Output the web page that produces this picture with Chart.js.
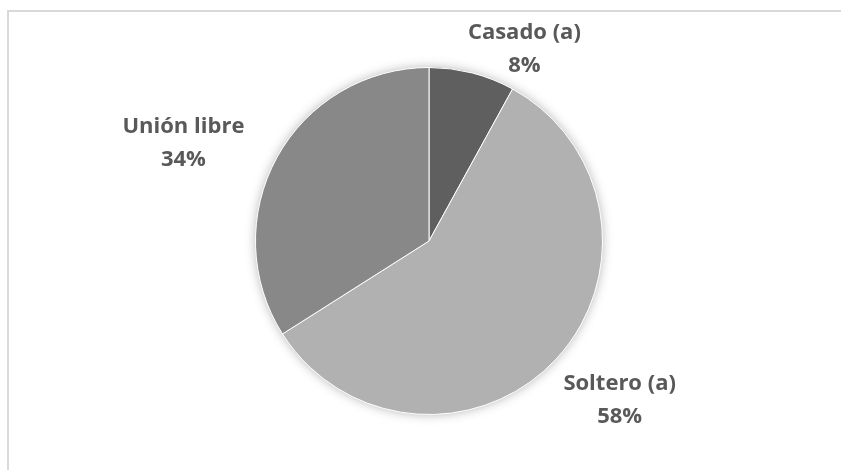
<!DOCTYPE html>
<html>
<head>
<meta charset="utf-8">
<script src="https://cdn.jsdelivr.net/npm/chart.js@4/dist/chart.umd.min.js"></script>
<style>
  html, body { margin: 0; padding: 0; background: #fff; overflow: hidden; }
  canvas { display: block; }
</style>
</head>
<body>
<canvas id="pieChart" width="841" height="470"></canvas>
<script>
const categories = ['Casado (a)', 'Soltero (a)', 'Unión libre'];
const percents = [8, 58, 34];
const sliceColors = ['#5f5f5f', '#b1b1b1', '#888888'];

// where each label sits relative to its slice: extra radius (px) and angle shift (deg)
const labelRadius = [41, 75, 91];
const labelShift = [12, -3.3, -7];

const framePlugin = {
  id: 'frame',
  beforeDraw(chart) {
    const ctx = chart.ctx;
    ctx.save();
    ctx.strokeStyle = '#d9d9d9';
    ctx.lineWidth = 2;
    ctx.beginPath();
    ctx.moveTo(8, chart.height);
    ctx.lineTo(8, 11);
    ctx.lineTo(chart.width, 11);
    ctx.stroke();
    ctx.restore();
  }
};

const shadowPlugin = {
  id: 'pieShadow',
  beforeDatasetsDraw(chart) {
    const arc = chart.getDatasetMeta(0).data[0];
    if (!arc) return;
    const ctx = chart.ctx;
    ctx.save();
    ctx.shadowColor = 'rgba(0,0,0,0.35)';
    ctx.shadowBlur = 12;
    ctx.fillStyle = '#ffffff';
    ctx.beginPath();
    ctx.arc(arc.x, arc.y, arc.outerRadius - 1, 0, Math.PI * 2);
    ctx.fill();
    ctx.restore();
  }
};

const labelPlugin = {
  id: 'sliceLabels',
  afterDatasetsDraw(chart) {
    const ctx = chart.ctx;
    const meta = chart.getDatasetMeta(0);
    ctx.save();
    ctx.fillStyle = '#595959';
    ctx.font = 'bold 22px "Open Sans", sans-serif';
    ctx.textAlign = 'center';
    ctx.textBaseline = 'middle';
    meta.data.forEach((arc, i) => {
      const p = arc.getProps(['x', 'y', 'startAngle', 'endAngle', 'outerRadius'], true);
      const mid = (p.startAngle + p.endAngle) / 2 + labelShift[i] * Math.PI / 180;
      const r = p.outerRadius + labelRadius[i];
      const cx = p.x + Math.cos(mid) * r;
      const cy = p.y + Math.sin(mid) * r;
      ctx.fillText(categories[i], cx, cy - 16.5);
      ctx.fillText(percents[i] + '%', cx, cy + 16.5);
    });
    ctx.restore();
  }
};

new Chart(document.getElementById('pieChart').getContext('2d'), {
  type: 'pie',
  data: {
    labels: categories,
    datasets: [{
      data: percents,
      backgroundColor: sliceColors,
      borderColor: '#ffffff',
      borderWidth: 1
    }]
  },
  options: {
    responsive: false,
    animation: false,
    layout: { padding: { top: 67, bottom: 55, left: 255, right: 238 } },
    plugins: {
      legend: { display: false },
      tooltip: { enabled: false }
    }
  },
  plugins: [framePlugin, shadowPlugin, labelPlugin]
});
</script>
</body>
</html>
